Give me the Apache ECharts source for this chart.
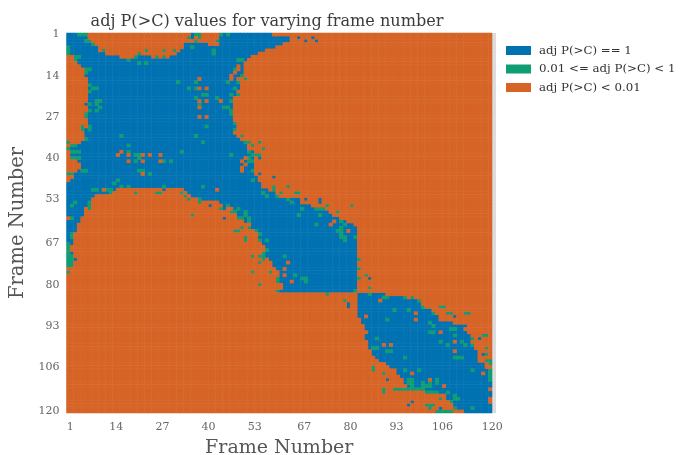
<!DOCTYPE html>
<html><head><meta charset="utf-8">
<style>html,body{margin:0;padding:0;background:#fff}#c{width:680px;height:455px}</style>
<script src="https://cdn.jsdelivr.net/npm/echarts@6/dist/echarts.min.js"></script>
</head><body><div id="c"></div>
<script>
const frameCount = 120;
const tickLabels = ['1','14','27','40','53','67','80','93','106','120'];
const classNames = ['adj P(>C) == 1','0.01 <= adj P(>C) < 1','adj P(>C) < 0.01'];
const classColors = ['#0072b2','#0f9e73','#d66426'];
// Orange runs per row as [first,last] frame pairs; everything else is blue.
const orangeRuns = [
[7,43,59,120],[7,43,64,120],[7,36,38,43,64,120],[8,33,41,43,62,120],[10,33,60,120],
[10,32,57,120],[12,31,55,120],[1,3,16,20,25,29,53,120],[1,3,52,120],[1,3,51,120],
[1,4,51,120],[1,5,51,120],[1,5,51,120],[1,5,51,120],[1,6,49,120],
[1,6,49,120],[1,6,50,120],[1,6,50,120],[1,6,49,120],[1,6,49,120],
[1,6,48,120],[1,6,48,120],[1,5,48,120],[1,6,48,120],[1,6,48,120],
[1,6,48,120],[1,5,48,120],[1,6,48,120],[1,6,49,120],[1,6,49,120],
[1,5,49,120],[1,5,48,120],[1,5,49,120],[1,5,50,120],[1,4,51,120],
[1,2,52,120],[1,1,52,120],[1,1,54,120],[1,1,54,120],[1,3,54,120],
[1,3,54,120],[1,4,54,120],[1,4,54,120],[1,3,54,120],[1,2,54,120],
[1,2,55,120],[1,1,55,120],[56,120],[56,120],[15,27,29,33,58,120],
[13,34,60,120],[9,35,61,120],[8,38,66,120],[8,37,39,43,67,120],[7,44,70,120],
[6,47,72,120],[6,47,75,120],[6,48,76,120],[5,49,78,120],[5,50,80,120],
[4,52,82,120],[4,52,83,120],[4,53,83,120],[3,54,83,120],[3,54,83,120],
[3,55,83,120],[3,55,83,120],[2,56,83,120],[2,56,83,120],[3,56,83,120],
[3,56,83,120],[4,57,83,120],[3,58,83,120],[2,58,83,120],[1,59,83,120],
[1,60,83,120],[1,60,83,120],[1,60,83,120],[1,60,83,120],[1,61,83,120],
[1,61,83,120],[1,60,83,120],[1,82,91,120],[1,82,96,120],[1,82,100,120],
[1,82,101,120],[1,82,102,120],[1,82,104,120],[1,82,104,120],[1,82,106,120],
[1,83,106,120],[1,83,110,120],[1,84,113,120],[1,84,113,120],[1,84,114,120],
[1,84,115,120],[1,84,115,120],[1,85,115,120],[1,85,116,120],[1,85,116,120],
[1,86,117,120],[1,86,117,120],[1,87,117,120],[1,88,117,120],[1,89,118,120],
[1,91,119,120],[1,93,120,120],[1,93,120,120],[1,94],[1,95],
[1,95],[1,96],[1,101],[1,104],[1,107],
[1,107],[1,109],[1,109],[1,110],[1,112]];
// Isolated cells as [row, frame]
const greenCells = [[1,4],[1,5],[1,6],[3,6],[3,7],[5,1],[6,1],[7,1],[8,3],[9,3],[8,4],[12,6],[12,7],[13,6],[17,7],[19,7],[18,8],[23,7],[23,9],[25,9],[26,6],[25,7],[27,6],[30,5],[31,5],[30,7],[31,7],[34,6],[35,1],[36,2],[36,3],[37,1],[38,2],[38,3],[38,4],[40,2],[40,3],[40,4],[44,5],[44,6],[45,2],[45,1],
[4,8],[6,11],[9,18],[7,21],[10,21],[10,23],[8,20],[6,23],[6,31],[6,28],[8,26],[8,28],[5,36],[2,35],[1,37],[2,38],[3,37],[1,38],[6,42],[7,42],[1,44],[1,46],[3,43],[9,50],[9,49],[12,48],[14,50],[15,51],[16,49],[16,46],[18,48],[20,47],[20,49],[22,47],[24,46],[25,47],[26,47],[29,48],[31,48],[33,50],[35,51],[36,53],[35,55],[37,56],[39,55],[40,52],[41,53],[44,53],
[16,37],[18,37],[21,37],[20,39],[20,40],[21,43],[23,38],[24,45],[30,40],[33,37],[35,39],[16,32],[18,35],[18,9],[22,9],[22,10],[24,10],[33,16],[36,18],[38,33],[39,47],[41,30],[41,28],[44,22],[44,21],[45,24],[38,18],[39,20],[41,20],[39,21],[40,21],
[47,15],[48,14],[49,16],[49,18],[50,8],[50,9],[50,12],[51,13],[50,13],[51,20],[51,26],[51,27],[49,28],[51,33],[53,35],[52,34],[49,39],[53,38],[54,38],[58,36],[57,47],[57,48],[59,50],[55,2],[54,3],[59,2],[54,7],[55,7],[56,7],[64,2],[65,2],[67,1],[68,1],[69,1],[70,1],[71,1],[71,2],[72,1],[72,2],[73,1],[73,2],[74,1],[74,2],[76,1],
[35,52],[38,52],[39,53],[39,54],[41,52],[41,53],[47,53],[37,56],[49,59],[49,63],[51,56],[50,59],[51,61],[51,66],[51,65],[52,57],[52,60],[53,63],[54,64],[56,67],[56,71],[56,72],[56,73],[55,74],[57,77],[55,81],[58,66],[58,72],[61,71],[63,77],[60,78],[61,79],[62,78],[63,78],[64,78],[65,78],[65,79],[66,79],[65,82],[49,39],
[56,44],[55,46],[56,49],[59,49],[59,50],[57,51],[59,52],[58,51],[60,52],[63,48],[63,49],[63,54],[66,51],[65,51],[62,52],[66,55],[66,57],[69,57],[71,53],[71,56],[71,55],[72,56],[70,56],[73,55],[71,62],[76,53],[76,58],[80,55],[79,60],[78,60],[77,65],[78,67],[78,68],[79,68],[83,74],[85,79],[82,82],[72,83],[75,83],[78,83],[77,85],[81,86],[82,60],[62,50],[64,55],
[83,86],[84,90],[84,91],[84,96],[84,98],[85,100],[88,97],[88,93],[87,101],[89,104],[87,106],[87,107],[89,108],[89,109],[89,113],[89,114],[91,91],[92,103],[93,104],[95,103],[95,104],[98,106],[99,108],[96,110],[94,110],[94,109],[97,115],[96,118],[96,119],[99,113],[98,112],[103,110],[103,111],[103,112],[99,115],[100,119],[102,119],[104,120],[105,120],[107,115],[107,120],[108,120],[109,120],[110,120],[104,119],
[97,88],[101,91],[101,92],[100,87],[100,88],[107,87],[106,87],[108,90],[114,90],[113,90],[103,96],[107,96],[107,100],[110,97],[110,98],[111,97],[111,98],[112,98],[111,101],[112,101],[112,102],[112,103],[111,103],[110,105],[111,105],[113,93],[113,94],[113,95],[113,96],[113,97],[113,98],[113,99],[113,100],[113,101],[114,102],[114,103],[114,104],[114,105],[118,102],[118,103],[118,104],[116,106],[114,108],[116,110],[116,111],[115,110],[117,109],[119,110],[119,115],[120,105],[120,106],[120,107],[120,108],[120,109],[119,103]];
const orangeCells = [[15,38],[18,38],[18,40],[22,38],[22,40],[22,44],[24,38],[27,38],[27,40],[38,16],[39,15],[39,18],[41,18],[39,22],[41,22],[39,24],[39,27],[41,27],[45,22],
[14,47],[11,49],[12,49],[13,48],[15,47],[40,51],[41,50],[42,51],[43,50],[50,11],[50,43],[59,1],[44,50],
[35,53],[37,53],[44,50],[52,61],[52,64],[50,43],[55,39],[55,40],[61,75],[60,76],[63,80],[62,51],[73,63],[75,62],[77,62],[79,64],[69,56],
[85,89],[89,99],[91,99],[90,85],[95,85],[94,84],[99,90],[99,92],[95,106],[101,110],[98,110],[110,95],[110,103],[112,107],[116,120],[117,120],[108,118],[102,117],[103,118],[113,120],[88,112],[105,90],[108,98],[115,100]];
const blueCells = [[2,36],[1,36],[2,66],[2,70],[3,68],[3,71],[43,53],[45,55],[46,59],[40,55],[53,66],[53,68],[59,45],[56,45],[59,45],[86,80],[87,80],[78,86],[84,95],[90,110],[93,113],[97,117],[102,118],[110,91],[117,98],[118,97],[105,118],[104,116],[106,118],[119,106],[120,105],[117,112],[118,111],[53,72],[54,72],[55,41],[54,2],[64,1]];

function cellClasses() {
  const grid = orangeRuns.map(runs => {
    const row = new Array(frameCount).fill(0);
    for (let k = 0; k < runs.length; k += 2) {
      for (let f = runs[k]; f <= runs[k + 1]; f++) row[f - 1] = 2;
    }
    return row;
  });
  orangeCells.forEach(([r, f]) => grid[r - 1][f - 1] = 2);
  blueCells.forEach(([r, f]) => grid[r - 1][f - 1] = 0);
  greenCells.forEach(([r, f]) => grid[r - 1][f - 1] = 1);
  return grid;
}
const grid = cellClasses();
const frames = Array.from({length: frameCount}, (_, i) => String(i + 1));
const seriesData = classNames.map(() => []);
grid.forEach((row, r) => row.forEach((v, f) => seriesData[v].push([f, r, v])));

const textFont = '"DejaVu Serif"';
const chart = echarts.init(document.getElementById('c'), null, {renderer: 'canvas'});
chart.setOption({
  animation: false,
  backgroundColor: '#fff',
  title: {text: 'adj P(>C) values for varying frame number', left: 267, textAlign: 'center', top: 14, padding: 0,
    textStyle: {fontFamily: textFont, fontSize: 16.1, fontWeight: 'normal', color: '#3c3c3c'}},
  legend: {left: 506, top: 43.5, padding: 0, orient: 'vertical', itemWidth: 25, itemHeight: 9, itemGap: 4.5, icon: 'rect',
    data: classNames, textStyle: {fontFamily: textFont, fontSize: 11.8, lineHeight: 14, color: '#333', padding: [0, 0, 0, 3]}},
  grid: {left: 66.5, top: 33, width: 425.5, height: 380, outerBoundsMode: 'none'},
  graphic: [{type: 'rect', shape: {x: 492, y: 33, width: 4, height: 380}, style: {fill: '#dcdcdc'}, silent: true}],
  xAxis: {type: 'category', data: frames, name: 'Frame Number', nameLocation: 'middle', nameGap: 26,
    nameTextStyle: {fontFamily: textFont, fontSize: 19, color: '#555'},
    axisLine: {show: false}, axisTick: {show: false}, splitLine: {show: false},
    axisLabel: {interval: (i, v) => tickLabels.includes(v), fontFamily: textFont, fontSize: 11, color: '#666', margin: 9, padding: [0, 0, 0, 4]}},
  yAxis: {type: 'category', data: frames, inverse: true, name: 'Frame Number', nameLocation: 'middle', nameGap: 36,
    nameTextStyle: {fontFamily: textFont, fontSize: 19.5, color: '#555'},
    axisLine: {show: false}, axisTick: {show: false}, splitLine: {show: false},
    axisLabel: {interval: (i, v) => tickLabels.includes(v), fontFamily: textFont, fontSize: 11, color: '#666', margin: 7}},
  series: classNames.map((name, i) => ({
    type: 'heatmap', name, data: seriesData[i], itemStyle: {color: classColors[i]},
    emphasis: {disabled: true}, progressive: 0
  }))
});
</script></body></html>
